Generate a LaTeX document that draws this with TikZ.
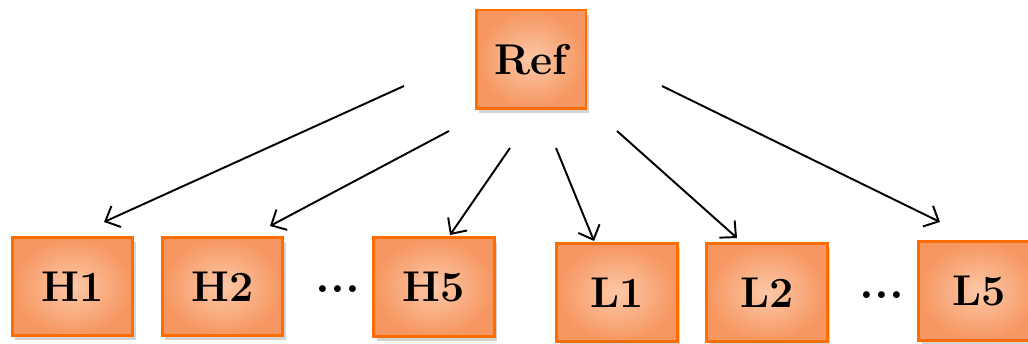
\documentclass[tikz,border=0pt]{standalone}
\usetikzlibrary{arrows.meta, shadows}
\definecolor{boxedge}{RGB}{255,108,0}
\definecolor{boxlight}{RGB}{252,200,168}
\definecolor{boxdark}{RGB}{246,150,96}

\begin{document}
\begin{tikzpicture}[x=0.02cm, y=-0.02cm, >={Straight Barb[length=2.4mm, width=4.6mm]},
    box/.style={draw=boxedge, line width=1.7pt, inner color=boxlight, outer color=boxdark,
        minimum width=2.42cm, minimum height=1.98cm,
        drop shadow={opacity=.35, shadow xshift=.6mm, shadow yshift=-.9mm},
        font=\fontsize{24.5}{28}\selectfont\bfseries},
    dots/.style={font=\fontsize{27}{30}\selectfont\bfseries},
    link/.style={->, line width=1.1pt}]
    \useasboundingbox(0, 0)rectangle(1028, 344);
    % top box
    \node[box, minimum width=2.2cm](ref)at(531, 59.5){Ref};
    % high row
    \node[box](h1)at(72.5, 286.5){H1};
    \node[box](h2)at(222.5, 286.5){H2};
    \node[dots](hdots)at(338, 289){...};
    \node[box](h5)at(434, 287){H5};
    % low row
    \node[box](l1)at(617, 292.5){L1};
    \node[box](l2)at(767, 292.5){L2};
    \node[dots](ldots)at(882, 295){...};
    \node[box](l5)at(979, 291){L5};
    % arrow ends
    \coordinate(s1)at(404, 86);
    \coordinate(s2)at(449, 131);
    \coordinate(s3)at(510, 148);
    \coordinate(s4)at(556, 148);
    \coordinate(s5)at(617, 131);
    \coordinate(s6)at(662, 86);
    \coordinate(t1)at(104, 222);
    \coordinate(t2)at(270, 226);
    \coordinate(t3)at(450, 235);
    \coordinate(t4)at(594, 241);
    \coordinate(t5)at(737, 238);
    \coordinate(t6)at(940, 222);
    \foreach \i in {1,...,6}
        \draw[link](s\i)--(t\i);
\end{tikzpicture}
\end{document}
